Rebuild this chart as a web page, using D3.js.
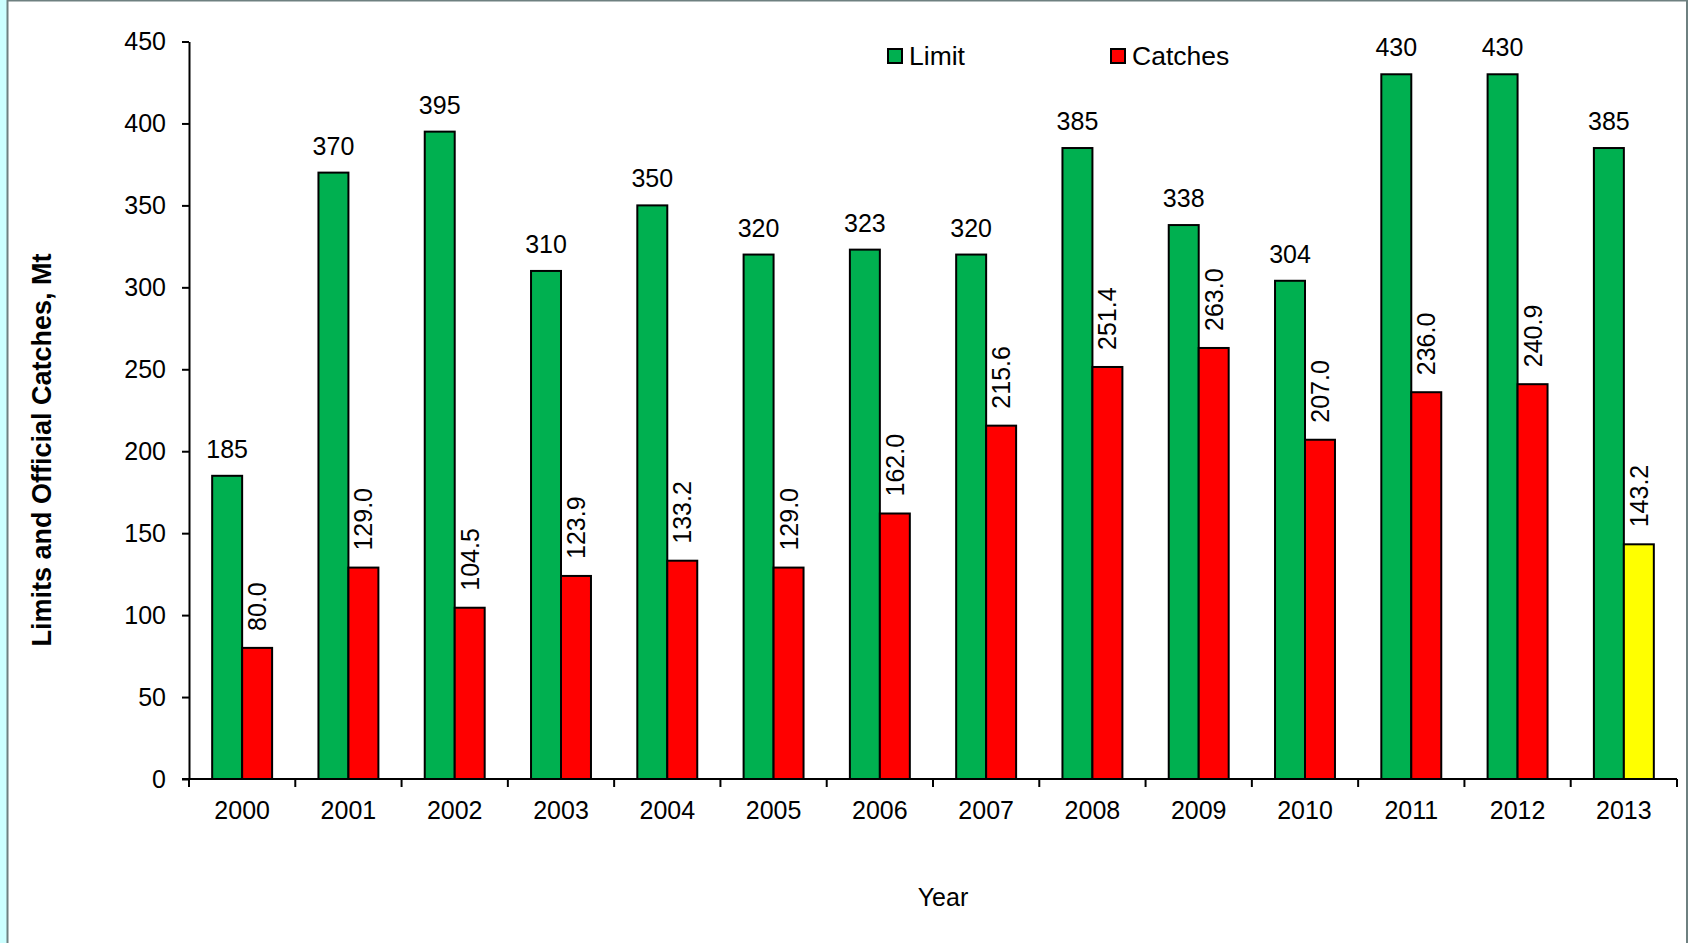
<!DOCTYPE html>
<html>
<head>
<meta charset="utf-8">
<script src="https://cdn.jsdelivr.net/npm/d3@7"></script>
<style>
  html, body { margin: 0; padding: 0; background: #ccffff; }
  svg { display: block; }
  text { font-family: Arial, "Liberation Sans", sans-serif; fill: #000; }
</style>
</head>
<body>
<svg id="chart" width="1688" height="943"></svg>
<script>
// Yearly limits and official catches (Mt)
const years   = ["2000","2001","2002","2003","2004","2005","2006","2007","2008","2009","2010","2011","2012","2013"];
const limits  = [185, 370, 395, 310, 350, 320, 323, 320, 385, 338, 304, 430, 430, 385];
const catches = [80.0, 129.0, 104.5, 123.9, 133.2, 129.0, 162.0, 215.6, 251.4, 263.0, 207.0, 236.0, 240.9, 143.2];
// the last season's catch is shown in its own colour
const provisional = [false, false, false, false, false, false, false, false, false, false, false, false, false, true];
const yTicks  = [0, 50, 100, 150, 200, 250, 300, 350, 400, 450];
const seriesNames = ["Limit", "Catches"];

const colors = { limit: "#00b050", catch: "#ff0000", provisional: "#ffff00" };

const svg = d3.select("#chart");

// panel with grey frame
svg.append("rect").attr("x", 8).attr("y", 0).attr("width", 1680).attr("height", 943).attr("fill", "#fff");
svg.append("line").attr("x1", 7.5).attr("x2", 7.5).attr("y1", 0).attr("y2", 943).attr("stroke", "#6e8080").attr("stroke-width", 2);
svg.append("line").attr("x1", 1687).attr("x2", 1687).attr("y1", 0).attr("y2", 943).attr("stroke", "#6e8080").attr("stroke-width", 2);
svg.append("line").attr("x1", 7).attr("x2", 1688).attr("y1", 0.75).attr("y2", 0.75).attr("stroke", "#6e8080").attr("stroke-width", 1.5);

const plotLeft = 189, plotRight = 1677, plotTop = 41.5, plotBottom = 779;
const fs = 25;

const x = d3.scaleBand().domain(years).range([plotLeft, plotRight]).padding(0);
const y = d3.scaleLinear().domain([0, 450]).range([plotBottom, plotTop]);

const bw = x.bandwidth();
const barW = bw * 0.282;
const off = (bw - 2 * barW) / 2;

const g = svg.append("g");

// Limit bars
g.selectAll(".limit").data(years).enter().append("rect")
  .attr("x", (d) => x(d) + off)
  .attr("y", (d, i) => y(limits[i]))
  .attr("width", barW)
  .attr("height", (d, i) => y(0) - y(limits[i]))
  .attr("fill", colors.limit)
  .attr("stroke", "#000").attr("stroke-width", 2);

// Catch bars
g.selectAll(".catch").data(years).enter().append("rect")
  .attr("x", (d) => x(d) + off + barW)
  .attr("y", (d, i) => y(catches[i]))
  .attr("width", barW)
  .attr("height", (d, i) => y(0) - y(catches[i]))
  .attr("fill", (d, i) => provisional[i] ? colors.provisional : colors.catch)
  .attr("stroke", "#000").attr("stroke-width", 2);

// Limit value labels
g.selectAll(".limitLbl").data(years).enter().append("text")
  .attr("x", (d) => x(d) + off + barW / 2)
  .attr("y", (d, i) => y(limits[i]) - 18)
  .attr("text-anchor", "middle")
  .attr("font-size", fs)
  .text((d, i) => d3.format("d")(limits[i]));

// Catch value labels, rotated
g.selectAll(".catchLbl").data(years).enter().append("text")
  .attr("transform", (d, i) => `translate(${x(d) + off + barW * 1.5 + 9},${y(catches[i]) - 17}) rotate(-90)`)
  .attr("text-anchor", "start")
  .attr("font-size", fs)
  .text((d, i) => d3.format(".1f")(catches[i]));

// Y axis
const yAxis = svg.append("g").attr("transform", `translate(${plotLeft},0)`)
  .call(d3.axisLeft(y).tickValues(yTicks).tickSize(7).tickSizeOuter(0).tickPadding(16));
yAxis.select(".domain").attr("stroke", "#000").attr("stroke-width", 2);
yAxis.selectAll(".tick line").attr("stroke", "#000").attr("stroke-width", 2);
yAxis.selectAll("text").attr("font-size", fs).attr("font-family", "Arial, 'Liberation Sans', sans-serif").attr("fill", "#000");

// X axis: labels centred in each band, ticks on band boundaries
const xAxis = svg.append("g").attr("transform", `translate(0,${plotBottom})`)
  .call(d3.axisBottom(x).tickSize(0).tickPadding(22));
xAxis.select(".domain").remove();
xAxis.selectAll("text").attr("font-size", fs).attr("font-family", "Arial, 'Liberation Sans', sans-serif").attr("fill", "#000");
xAxis.append("line").attr("x1", plotLeft - 7).attr("x2", plotRight).attr("y1", 0).attr("y2", 0)
  .attr("stroke", "#000").attr("stroke-width", 2);
const bounds = years.map((d) => x(d)).concat([plotRight]);
xAxis.selectAll(".bound").data(bounds).enter().append("line")
  .attr("x1", (d) => d).attr("x2", (d) => d).attr("y1", 0).attr("y2", 8)
  .attr("stroke", "#000").attr("stroke-width", 2);

// Axis titles
svg.append("text")
  .attr("x", 943).attr("y", 906)
  .attr("text-anchor", "middle").attr("font-size", fs)
  .text("Year");
svg.append("text")
  .attr("transform", "translate(51,450) rotate(-90)")
  .attr("text-anchor", "middle").attr("font-size", 27).attr("font-weight", "bold")
  .text("Limits and Official Catches, Mt");

// Legend
const legendX = [888, 1111];
const legendFill = [colors.limit, colors.catch];
const leg = svg.append("g");
seriesNames.forEach((name, i) => {
  leg.append("rect").attr("x", legendX[i]).attr("y", 49).attr("width", 14).attr("height", 14)
    .attr("fill", legendFill[i]).attr("stroke", "#000").attr("stroke-width", 2);
  leg.append("text").attr("x", legendX[i] + 21).attr("y", 65).attr("font-size", 26.5).text(name);
});
</script>
</body>
</html>
